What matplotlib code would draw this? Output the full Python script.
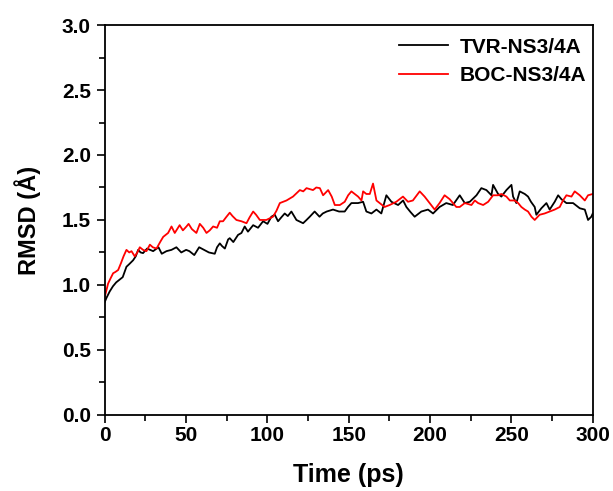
import matplotlib
matplotlib.use("Agg")
import matplotlib.pyplot as plt
from matplotlib.ticker import MultipleLocator

plt.rcParams['font.family'] = ['Liberation Sans', 'DejaVu Sans']
plt.rcParams['font.weight'] = 'bold'

# TVR-NS3/4A (black)
tvr_t = [0, 1, 3, 5, 7, 9, 11, 13.3, 15, 17.4, 19, 20.5, 22, 23.5, 26, 29.7, 33, 35, 37.9, 41, 44, 47, 50, 52,
         55, 58, 61, 64, 67.6, 69, 70.7, 72, 73.8, 75.8, 76.8, 79, 81.9, 84, 86, 88, 91.2, 94.2, 97.3, 100,
         102.4, 104.5, 106.5, 108.5, 110.6, 112.5, 114.7, 117.8, 121.9, 124, 126, 129, 132, 134, 136.4, 140.3,
         144, 147.5, 149.5, 151.6, 155.7, 158.8, 160.8, 163.9, 167, 170, 173.1, 176.2, 180.3, 183.4, 185.4,
         188, 190.5, 194.6, 198.7, 201.8, 205.8, 209.9, 214, 218.2, 221.3, 224.4, 228.5, 231.5, 234.6, 237.7,
         238.7, 241.8, 243.8, 246.9, 250, 251, 253, 255.1, 258.2, 260.2, 262, 264.3, 265.3, 268.4, 271.5,
         273.5, 276.6, 278.7, 280.7, 283.8, 287.9, 292, 295.1, 297.1, 299.1, 300]
tvr_v = [0.87, 0.90, 0.95, 0.99, 1.02, 1.04, 1.06, 1.14, 1.16, 1.19, 1.22, 1.27, 1.25, 1.245, 1.28, 1.26,
         1.29, 1.24, 1.26, 1.27, 1.29, 1.25, 1.27, 1.26, 1.23, 1.29, 1.27, 1.25, 1.24, 1.29, 1.32, 1.30, 1.28,
         1.35, 1.36, 1.33, 1.385, 1.40, 1.45, 1.41, 1.46, 1.44, 1.49, 1.47, 1.525, 1.54, 1.49, 1.52, 1.55,
         1.53, 1.565, 1.50, 1.475, 1.50, 1.525, 1.565, 1.525, 1.55, 1.565, 1.58, 1.565, 1.565, 1.60, 1.63,
         1.63, 1.64, 1.565, 1.55, 1.58, 1.55, 1.69, 1.64, 1.615, 1.65, 1.60, 1.56, 1.525, 1.565, 1.58, 1.55,
         1.60, 1.63, 1.615, 1.69, 1.63, 1.64, 1.69, 1.745, 1.73, 1.69, 1.77, 1.70, 1.68, 1.73, 1.77, 1.68,
         1.63, 1.72, 1.70, 1.68, 1.64, 1.60, 1.54, 1.59, 1.63, 1.58, 1.64, 1.69, 1.66, 1.63, 1.63, 1.59, 1.58,
         1.50, 1.525, 1.55]

# BOC-NS3/4A (red)
boc_t = [0, 1, 2, 3.5, 5.1, 6.5, 8.2, 10, 11.5, 13.3, 15, 16.4, 18.4, 20, 21.5, 23.5, 25.6, 27.7, 29.5,
         31.8, 34, 35.9, 38.9, 41, 43, 46, 48, 50.2, 51.5, 53.5, 56.3, 58.4, 60.5, 62.5, 64.5, 66.6, 69, 70.7,
         72.7, 74.5, 76.8, 78.5, 80.9, 84, 87.1, 89, 91.2, 93, 95.3, 99.3, 103.4, 105.5, 107.6, 111.7, 115.7,
         119.9, 122, 124, 128, 130, 132.2, 134.2, 137.3, 139.5, 141.4, 144.5, 147.5, 149.6, 151.6, 155.7,
         157.8, 158.8, 160.8, 162.9, 164.9, 167, 169, 172, 175.1, 179.2, 183.3, 186.4, 189.4, 193.6, 196.6,
         199.7, 202.8, 205.8, 208.9, 212, 216.1, 218.2, 221.3, 225.4, 227.5, 229.5, 232.6, 235.7, 238.7,
         241.8, 243.8, 246.9, 249, 252, 254.1, 256.1, 258.2, 260.2, 262.3, 264.3, 267.3, 270.4, 273.5, 276.6,
         279.7, 281.7, 283.8, 286.9, 288.9, 292, 295.1, 297.1, 300]
boc_v = [0.91, 0.96, 1.01, 1.05, 1.09, 1.10, 1.115, 1.17, 1.22, 1.27, 1.25, 1.26, 1.22, 1.25, 1.29, 1.27,
         1.26, 1.31, 1.29, 1.28, 1.33, 1.37, 1.40, 1.45, 1.40, 1.46, 1.42, 1.45, 1.47, 1.43, 1.40, 1.47, 1.44,
         1.40, 1.42, 1.45, 1.44, 1.49, 1.49, 1.52, 1.556, 1.53, 1.50, 1.49, 1.475, 1.52, 1.565, 1.54, 1.50,
         1.50, 1.525, 1.57, 1.63, 1.65, 1.68, 1.73, 1.72, 1.745, 1.73, 1.75, 1.745, 1.69, 1.73, 1.68, 1.615,
         1.615, 1.64, 1.69, 1.72, 1.68, 1.65, 1.72, 1.70, 1.70, 1.78, 1.65, 1.63, 1.60, 1.615, 1.64, 1.68,
         1.64, 1.65, 1.72, 1.68, 1.63, 1.58, 1.63, 1.69, 1.66, 1.60, 1.60, 1.63, 1.615, 1.65, 1.63, 1.615,
         1.64, 1.69, 1.69, 1.70, 1.68, 1.65, 1.65, 1.63, 1.60, 1.58, 1.565, 1.525, 1.50, 1.54, 1.55, 1.565,
         1.58, 1.60, 1.65, 1.69, 1.68, 1.72, 1.69, 1.65, 1.69, 1.70]

fig = plt.figure(figsize=(6.13, 4.91), dpi=100)
ax = fig.add_axes([0.171, 0.155, 0.796, 0.794])

ax.plot(tvr_t, tvr_v, color='black', lw=1.3, label='TVR-NS3/4A')
ax.plot(boc_t, boc_v, color='red', lw=1.3, label='BOC-NS3/4A')

ax.set_xlim(0, 300)
ax.set_ylim(0, 3.0)
ax.xaxis.set_major_locator(MultipleLocator(50))
ax.xaxis.set_minor_locator(MultipleLocator(25))
ax.yaxis.set_major_locator(MultipleLocator(0.5))
ax.yaxis.set_minor_locator(MultipleLocator(0.25))
ax.yaxis.set_major_formatter(matplotlib.ticker.FormatStrFormatter('%.1f'))
ax.tick_params(which='major', direction='out', length=6, width=1.2, labelsize=15, pad=4)
ax.tick_params(axis='x', which='major', pad=2)
ax.tick_params(which='minor', direction='out', length=4, width=1.2)
for s in ax.spines.values():
    s.set_linewidth(1.3)

ax.set_xlabel('Time (ps)', fontsize=18, fontweight='bold', labelpad=13)
ax.set_ylabel('RMSD (Å)', fontsize=17, fontweight='bold', labelpad=15)

leg = ax.legend(loc='upper right', frameon=False, fontsize=15, handlelength=2.35,
                borderaxespad=0.2, labelspacing=0.45, handletextpad=0.55,
                bbox_to_anchor=(1.012, 1.0))
for t in leg.get_texts():
    t.set_fontweight('bold')

fig.savefig('out.png', dpi=100)
